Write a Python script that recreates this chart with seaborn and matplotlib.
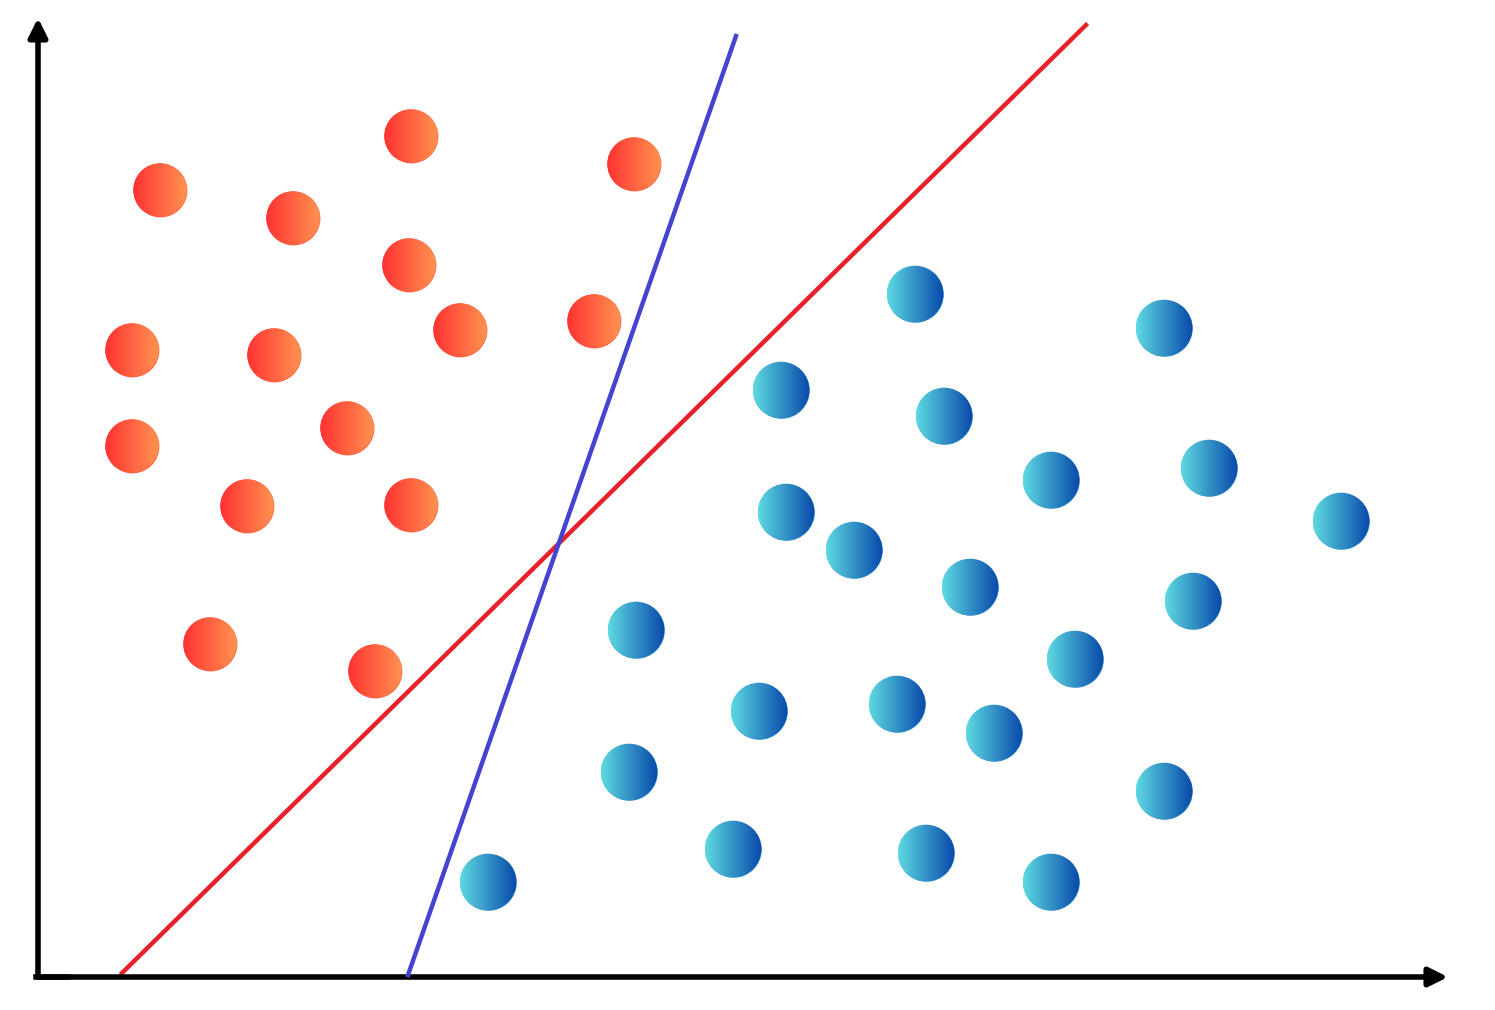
import numpy as np
import pandas as pd
import matplotlib
matplotlib.use('Agg')
import matplotlib.pyplot as plt
from matplotlib.patches import Circle
from matplotlib.colors import to_rgb
import seaborn as sns

# class A (red/orange) points
red_x = [3.73, 5.96, 1.22, 2.55, 3.71, 4.22, 5.56, 0.94, 2.36, 3.09, 0.94, 2.09, 3.73, 1.72, 3.37]
red_y = [8.41, 8.13, 7.87, 7.59, 7.12, 6.47, 6.56, 6.27, 6.22, 5.49, 5.31, 4.71, 4.72, 3.33, 3.06]

# class B (blue) points
blue_x = [8.77, 11.26, 7.43, 9.06, 10.13, 11.71, 13.03, 7.48, 8.16, 9.32, 11.55,
          5.98, 10.37, 7.21, 8.59, 9.56, 5.91, 11.26, 6.95, 8.88, 10.13, 4.50]
blue_y = [6.83, 6.49, 5.87, 5.61, 4.97, 5.09, 4.56, 4.65, 4.27, 3.90, 3.76,
          3.47, 3.18, 2.66, 2.73, 2.44, 2.05, 1.86, 1.28, 1.24, 0.95, 0.95]

# two separating lines
red_line_x = [0.84, 10.48]
red_line_y = [0.04, 9.52]
blue_line_x = [3.70, 6.98]
blue_line_y = [0.02, 9.41]

# axis arrow tips
x_axis_end = 14.10
y_axis_end = 9.59


def gradient_circles(ax, xs, ys, r, c_left, c_right):
    '''
    Paint a left-to-right colour gradient inside each circle.
    '''
    c0 = np.array(to_rgb(c_left))
    c1 = np.array(to_rgb(c_right))
    t = np.linspace(0, 1, 256)[:, None]
    grad = (c0 * (1 - t) + c1 * t)[None, :, :]
    for x, y in zip(xs, ys):
        im = ax.imshow(grad, extent=[x - r, x + r, y - r, y + r],
                       interpolation='bilinear', zorder=4, aspect='auto')
        im.set_clip_path(Circle((x, y), r, transform=ax.transData))


def main():
    df = pd.DataFrame({
        'x': red_x + blue_x,
        'y': red_y + blue_y,
        'cls': ['a'] * len(red_x) + ['b'] * len(blue_x),
    })

    fig = plt.figure(figsize=(14.95, 10.10), dpi=100)
    ax = fig.add_axes([0, 0, 1, 1])
    ax.set_xlim(-0.38, 14.57)
    ax.set_ylim(-0.33, 9.77)
    ax.set_aspect('equal')
    ax.axis('off')

    # axes with arrows
    ax.annotate('', xy=(x_axis_end, 0), xytext=(0, 0),
                arrowprops=dict(arrowstyle='-|>', lw=4, color='black',
                                mutation_scale=28, shrinkA=0, shrinkB=0))
    ax.annotate('', xy=(0, y_axis_end), xytext=(0, 0),
                arrowprops=dict(arrowstyle='-|>', lw=4, color='black',
                                mutation_scale=28, shrinkA=0, shrinkB=0))
    ax.plot([-0.02, 0.3], [0, 0], color='black', lw=4, solid_capstyle='projecting')

    ax.plot(red_line_x, red_line_y, color='#e8202a', lw=3.2, zorder=2)
    ax.plot(blue_line_x, blue_line_y, color='#4444d2', lw=3.2, zorder=3)

    sns.scatterplot(data=df[df.cls == 'a'], x='x', y='y', color='#ff6040',
                    s=1500, linewidth=0, ax=ax, zorder=3, legend=False)
    sns.scatterplot(data=df[df.cls == 'b'], x='x', y='y', color='#3090c8',
                    s=1660, linewidth=0, ax=ax, zorder=3, legend=False)

    gradient_circles(ax, red_x, red_y, 0.268, '#ff3232', '#ff9250')
    gradient_circles(ax, blue_x, blue_y, 0.283, '#5edae2', '#0848aa')

    ax.set_xlim(-0.38, 14.57)
    ax.set_ylim(-0.33, 9.77)
    fig.savefig('out.png', dpi=100)
    plt.close(fig)


if __name__ == '__main__':
    main()
